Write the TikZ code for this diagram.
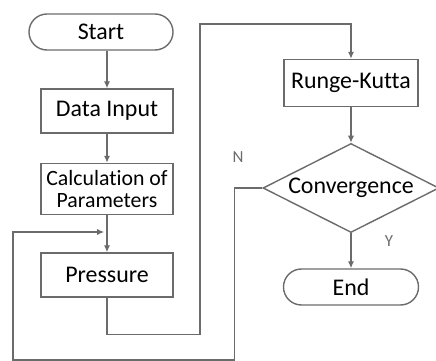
\documentclass[tikz,border=0pt]{standalone}
\usepackage{fontspec}
\setmainfont[Ligatures=NoCommon]{Carlito}
\usepackage{xcolor}
\usetikzlibrary{shapes.geometric,arrows.meta}

\definecolor{linegray}{gray}{0.42}

\begin{document}
\begin{tikzpicture}[x=0.025cm, y=-0.025cm,
	box/.style={rectangle, draw=linegray, line width=1pt, minimum width=3.3cm, minimum height=1.1cm, inner sep=1pt, align=center, font=\fontsize{17}{15.5}\selectfont},
	term/.style={box, rounded corners=0.45cm, minimum height=0.9cm},
	decision/.style={diamond, draw=linegray, line width=1pt, minimum width=4.4cm, minimum height=2.225cm, inner sep=0pt},
	arr/.style={draw=linegray, line width=1pt, -{Latex[length=5pt,width=4.5pt]}},
	yn/.style={text=linegray, font=\fontsize{12}{12}\selectfont}]
	\useasboundingbox (0,0) rectangle (436,361);

	\node[term, minimum width=3.6cm] (start) at (101,32) {Start};
	\node[box] (data) at (107,111) {Data Input};
	\node[box, minimum height=1.275cm, font=\fontsize{15.5}{15}\selectfont] (calc) at (107,189) {Calculation of\\Parameters};
	\node[box] (pressure) at (107,275) {Pressure};
	\node[box, minimum width=3.35cm, minimum height=1.175cm] (rk) at (351,83) {Runge-Kutta};
	\node[decision, label={[font=\fontsize{17}{15.5}\selectfont]center:Convergence}] (conv) at (351,188) {};
	\node[term, minimum width=3.375cm] (end) at (351,287) {End};

	\node[yn] (N) at (238,157) {N};
	\node[yn] (Y) at (389,241) {Y};

	\coordinate (merge) at (107,232);
	\coordinate (loopbl) at (13,360);

	% Draw the main flow
	\draw[arr] (start.south -| data.north) -- (data.north);
	\draw[arr] (data) -- (calc);
	\draw[arr] (calc) -- (pressure);
	\draw[arr] (pressure.south) -- ++(0,37) -| (200,24) -| (rk.north);
	\draw[arr] (rk) -- (conv);
	\draw[arr] (conv) -- (end);

	% Draw the loop back for N
	\draw[arr] (conv.west) -- ++(-28,0) |- (loopbl) |- ([xshift=-2pt]merge);
\end{tikzpicture}
\end{document}
